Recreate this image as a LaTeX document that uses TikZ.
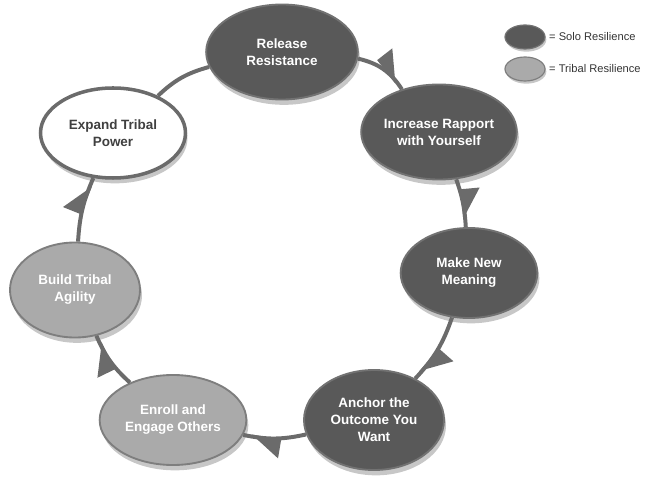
\documentclass[tikz,border=0pt]{standalone}
\usepackage{fontspec}
\newfontfamily\labfont{Liberation Sans}
\usepackage{tikz}
\usetikzlibrary{arrows.meta,shapes.geometric,shadows,decorations.markings}
\usepackage{xcolor}
\definecolor{solo}{HTML}{595959}
\definecolor{soloring}{HTML}{727272}
\definecolor{tribe}{HTML}{AAAAAA}
\definecolor{tribering}{HTML}{7E7E7E}
\definecolor{link}{HTML}{6B6B6B}

\begin{document}
\begin{tikzpicture}[x=0.03cm,y=-0.03cm,
  stage/.style={ellipse,inner sep=0pt,align=center,text=white,line width=1.6pt,
    font=\labfont\bfseries\fontsize{11.5}{14.5}\selectfont,
    drop shadow={shadow xshift=0.6mm,shadow yshift=-1.6mm,opacity=0.22,fill=black}},
  solostage/.style={stage,fill=solo,draw=soloring},
  tribestage/.style={stage,fill=tribe,draw=tribering},
  flow/.style={draw=link,line width=3.4pt,postaction={decorate},
    decoration={markings,mark=at position -2.5mm with {\arrow[link]{Triangle[left,length=8mm,width=10mm]}}}},
  key/.style={ellipse,minimum width=1.2cm,minimum height=0.72cm,line width=1pt,
    drop shadow={shadow xshift=0.4mm,shadow yshift=-0.8mm,opacity=0.22,fill=black}}]
\useasboundingbox (0,0) rectangle (650,488);
% stages of the cycle
\node[solostage,minimum width=4.55cm,minimum height=2.85cm] (rel) at (282,52) {Release\\Resistance};
\node[solostage,minimum width=3.95cm,minimum height=2.85cm] (inc) at (439,132) {Increase Rapport\\with Yourself};
\node[solostage,minimum width=4.1cm,minimum height=2.7cm] (mnm) at (469,273) {Make New\\Meaning};
\node[solostage,minimum width=4.2cm,minimum height=3.0cm] (anc) at (374,420) {Anchor the\\Outcome You\\Want};
\node[tribestage,minimum width=4.4cm,minimum height=2.7cm] (enr) at (173,420) {Enroll and\\Engage Others};
\node[tribestage,minimum width=3.9cm,minimum height=2.85cm] (bta) at (75,290) {Build Tribal\\Agility};
\node[stage,fill=white,draw=link,line width=3pt,text=black!75,minimum width=4.35cm,minimum height=2.7cm] (etp) at (113,133) {Expand Tribal\\Power};
% connectors
\draw[flow] (rel) to[bend left=22] (inc);
\draw[flow] (inc) to[bend left=8] (mnm);
\draw[flow] (mnm) to[bend left=12] (anc);
\draw[flow] (anc) to[bend left=12] (enr);
\draw[flow] (enr) to[bend left=12] (bta);
\draw[flow] (bta) to[bend left=10] (etp);
\draw[draw=link,line width=3.4pt] (etp) to[bend left=14] (rel);
% legend
\node[key,fill=solo,draw=soloring] (ksolo) at (525,37) {};
\node[key,fill=tribe,draw=tribering] (ktribe) at (525,69) {};
\node[anchor=west,font=\labfont\fontsize{9.5}{11}\selectfont,text=black!80,inner sep=0pt] (tsolo) at (549,37) {= Solo Resilience};
\node[anchor=west,font=\labfont\fontsize{9.5}{11}\selectfont,text=black!80,inner sep=0pt] (ttribe) at (549,69) {= Tribal Resilience};
\end{tikzpicture}
\end{document}
